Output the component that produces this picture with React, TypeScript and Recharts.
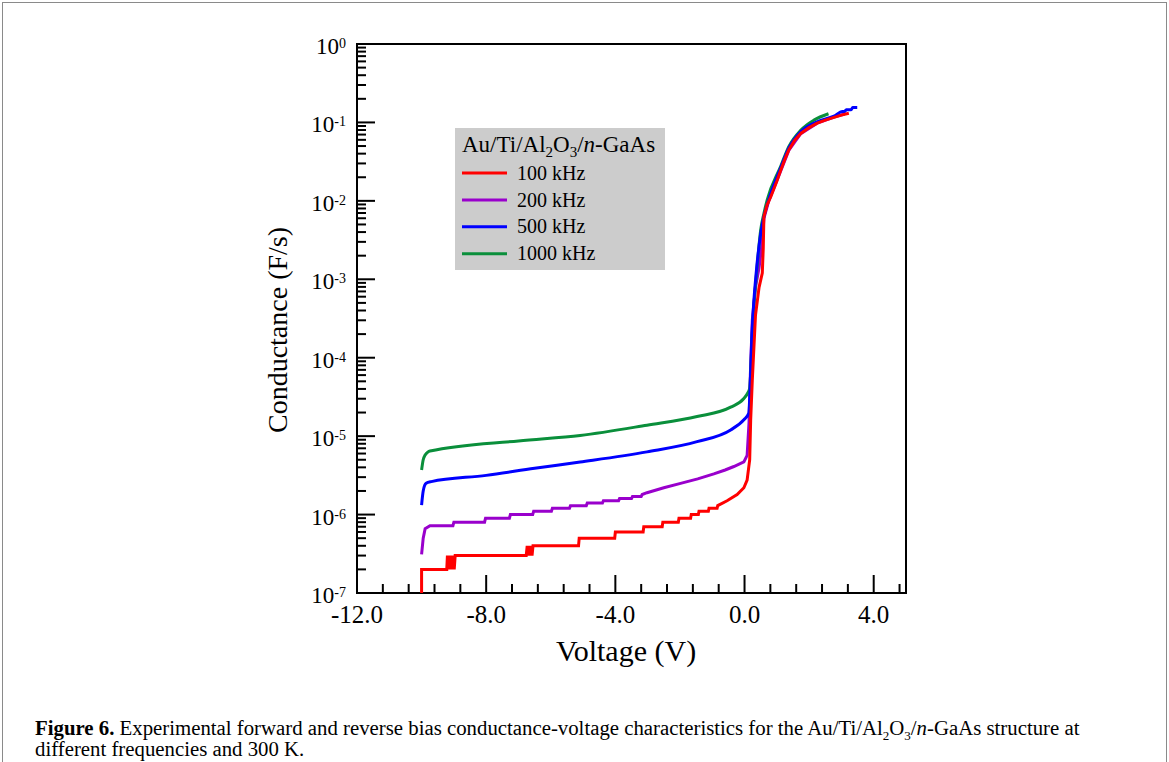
import { Legend, Line, LineChart, ReferenceArea, XAxis, YAxis } from "recharts";

const SERIF = '"Liberation Serif", "Times New Roman", serif';

// [voltage (V), conductance (F/s)]
const g100: [number, number][] = [
  [-10, 1e-7], [-10, 2e-7], [-9.22, 2e-7], [-9.2, 3e-7], [-9.17, 2e-7], [-9.14, 3e-7],
  [-9.11, 2e-7], [-9.08, 3e-7], [-9.05, 2e-7], [-9.02, 3e-7], [-8.99, 2e-7], [-8.96, 3e-7],
  [-6.76, 3e-7], [-6.73, 4e-7], [-6.7, 3e-7], [-6.67, 4e-7], [-6.64, 3e-7], [-6.61, 4e-7],
  [-6.58, 3e-7], [-6.55, 4e-7], [-5.14, 4e-7], [-5.12, 5e-7], [-4.02, 5e-7], [-4.0, 6e-7],
  [-3.14, 6e-7], [-3.12, 7e-7], [-2.55, 7e-7], [-2.53, 8e-7], [-2.05, 8e-7], [-2.03, 9e-7],
  [-1.67, 9e-7], [-1.65, 1e-6], [-1.43, 1e-6], [-1.41, 1.1e-6], [-1.12, 1.1e-6], [-1.1, 1.2e-6],
  [-0.85, 1.2e-6], [-0.83, 1.3e-6], [-0.54, 1.5e-6], [-0.23, 1.8e-6], [-0.02, 2.2e-6],
  [0.08, 2.75e-6], [0.16, 5e-6], [0.19, 1.6e-5], [0.24, 5.1e-5], [0.34, 3.5e-4], [0.45, 7.9e-4],
  [0.55, 1.2e-3], [0.58, 2.5e-3], [0.6, 6.3e-3], [0.7, 8.9e-3], [0.81, 1.12e-2], [1.0, 1.78e-2],
  [1.12, 2.45e-2], [1.25, 3.4e-2], [1.37, 4.47e-2], [1.55, 5.9e-2], [1.74, 7.24e-2], [2.0, 8.6e-2],
  [2.25, 9.77e-2], [2.5, 0.107], [2.77, 0.116], [3.0, 0.124], [3.23, 0.131],
];

const g200: [number, number][] = [
  [-10, 3.1e-7], [-9.95, 5e-7], [-9.89, 6.6e-7], [-9.74, 7.2e-7], [-9.03, 7.2e-7], [-9.0, 8e-7],
  [-8.05, 8e-7], [-8.02, 9e-7], [-7.28, 9e-7], [-7.25, 1e-6], [-6.56, 1e-6], [-6.53, 1.1e-6],
  [-5.98, 1.1e-6], [-5.95, 1.2e-6], [-5.42, 1.2e-6], [-5.39, 1.3e-6], [-4.9, 1.3e-6],
  [-4.87, 1.4e-6], [-4.4, 1.4e-6], [-4.37, 1.5e-6], [-3.9, 1.5e-6], [-3.87, 1.6e-6],
  [-3.5, 1.6e-6], [-3.47, 1.7e-6], [-3.2, 1.7e-6], [-3.17, 1.8e-6], [-3.02, 1.9e-6],
  [-2.5, 2.2e-6], [-1.98, 2.5e-6], [-1.45, 2.85e-6], [-0.95, 3.3e-6], [-0.6, 3.7e-6],
  [-0.33, 4.1e-6], [-0.02, 4.7e-6], [0.08, 5.7e-6],
  [0.14, 1.5e-5], [0.18, 6e-5], [0.24, 3e-4], [0.34, 8e-4], [0.45, 1.4e-3], [0.55, 3e-3],
  [0.6, 6e-3], [0.75, 1e-2], [1.12, 2.4e-2], [1.37, 4.4e-2], [1.74, 7.2e-2], [2.25, 9.8e-2],
  [2.77, 0.117], [3.1, 0.128],
];

const g500: [number, number][] = [
  [-10, 1.32e-6], [-9.95, 2e-6], [-9.86, 2.5e-6], [-9.7, 2.63e-6], [-8, 3.16e-6], [-6.5, 3.9e-6],
  [-5.09, 4.68e-6], [-3.02, 6.3e-6], [-1.47, 8.5e-6], [-0.43, 1.2e-5], [-0.02, 1.62e-5],
  [0.13, 1.95e-5], [0.18, 5e-5], [0.22, 1.6e-4], [0.27, 4e-4], [0.37, 1.32e-3], [0.5, 3.8e-3],
  [0.6, 6.3e-3], [0.72, 9.5e-3], [1.12, 2.63e-2], [1.37, 4.68e-2], [1.74, 7.6e-2], [2.25, 0.102],
  [2.77, 0.12], [3.03, 0.138], [3.1, 0.138], [3.15, 0.145], [3.3, 0.145], [3.35, 0.155], [3.49, 0.155],
];

const g1000: [number, number][] = [
  [-10, 3.7e-6], [-9.95, 5e-6], [-9.89, 5.75e-6], [-9.8, 6.3e-6], [-9.74, 6.45e-6], [-7, 8.7e-6],
  [-5.09, 1.02e-5], [-3.02, 1.38e-5], [-1.47, 1.78e-5], [-0.43, 2.34e-5], [-0.02, 3.02e-5],
  [0.1, 3.55e-5], [0.16, 4.07e-5], [0.2, 7.9e-5], [0.24, 2e-4], [0.29, 4.47e-4], [0.39, 1.45e-3],
  [0.5, 4.27e-3], [0.6, 6.9e-3], [0.7, 1.02e-2], [1.12, 2.75e-2], [1.37, 4.9e-2], [1.74, 7.94e-2],
  [2.15, 0.107], [2.6, 0.129],
];

const seriesNames = ["100 kHz", "200 kHz", "500 kHz", "1000 kHz"];
const seriesColors = ["#ff0000", "#9900cc", "#0000ff", "#0a8f3b"];

const xTicks = [
  -12, -11.2, -10.4, -9.6, -8.8, -8, -7.2, -6.4, -5.6, -4.8, -4, -3.2, -2.4, -1.6, -0.8,
  0, 0.8, 1.6, 2.4, 3.2, 4, 4.8,
];
const decades = [-7, -6, -5, -4, -3, -2, -1, 0];
const mantissas = [1, 2, 3, 4, 5, 6, 7, 8, 9];
const yTicks = decades.flatMap((d) => (d === 0 ? [1] : mantissas.map((m) => m * 10 ** d)));

const toRows = (pts: [number, number][]) => pts.map(([v, g]) => ({ v, g }));

function XTick({ x, y, payload }: any) {
  const v = payload.value as number;
  const major = Math.abs(v % 4) < 1e-6;
  return (
    <g>
      <line x1={x} x2={x} y1={y} y2={y - (major ? 18 : 9)} stroke="#000" strokeWidth={2} />
      {major && (
        <text x={x} y={y + 30} textAnchor="middle" fontSize={25} fontFamily={SERIF} fill="#000">
          {v.toFixed(1)}
        </text>
      )}
    </g>
  );
}

function YTick({ x, y, payload }: any) {
  const lg = Math.log10(payload.value as number);
  const exp = Math.round(lg);
  const major = Math.abs(lg - exp) < 1e-6;
  return (
    <g>
      <line x1={x} x2={x + (major ? 18 : 9)} y1={y} y2={y} stroke="#000" strokeWidth={2} />
      {major && (
        <text x={x - 11} y={y + 10} textAnchor="end" fontFamily={SERIF} fill="#000">
          <tspan fontSize={23}>10</tspan>
          <tspan fontSize={14} dy={-6}>{exp}</tspan>
        </text>
      )}
    </g>
  );
}

function LegendBox() {
  const rows = [0, 1, 2, 3];
  return (
    <svg width={210} height={142} style={{ display: "block" }}>
      <rect x={0} y={0} width={210} height={142} fill="#cccccc" />
      <text x={7} y={24} fontSize={23} fontFamily={SERIF} fill="#000">
        Au/Ti/Al
        <tspan fontSize={15} dy={5}>2</tspan>
        <tspan dy={-5}>O</tspan>
        <tspan fontSize={15} dy={5}>3</tspan>
        <tspan dy={-5}>/</tspan>
        <tspan fontStyle="italic">n</tspan>
        <tspan>-GaAs</tspan>
      </text>
      {rows.map((i) => (
        <g key={i}>
          <line x1={7} x2={52} y1={45 + i * 26.9} y2={45 + i * 26.9} stroke={seriesColors[i]} strokeWidth={3} />
          <text x={62} y={52 + i * 26.7} fontSize={20} fontFamily={SERIF} fill="#000">
            {seriesNames[i]}
          </text>
        </g>
      ))}
    </svg>
  );
}

export default function App() {
  const sub = { fontSize: 13, lineHeight: 0 };
  return (
    <div style={{ position: "absolute", left: 0, top: 0, width: 1169, height: 762, background: "#fff", overflow: "hidden" }}>
      <div style={{ position: "absolute", left: 2, top: 2, width: 1163, height: 780, border: "1px solid #8a8a8a" }} />
      <div style={{ position: "absolute", left: 0, top: 0 }}>
        <LineChart width={1169} height={700} margin={{ top: 44, right: 263, bottom: 0, left: 0 }}>
          <XAxis
            type="number"
            dataKey="v"
            domain={[-12, 5]}
            allowDataOverflow
            ticks={xTicks}
            interval={0}
            height={107}
            tickSize={0}
            tickMargin={0}
            tickLine={false}
            axisLine={false}
            tick={<XTick />}
          />
          <YAxis
            type="number"
            scale="log"
            domain={[1e-7, 1]}
            allowDataOverflow
            ticks={yTicks}
            interval={0}
            width={357}
            tickSize={0}
            tickMargin={0}
            tickLine={false}
            axisLine={false}
            tick={<YTick />}
          />
          <ReferenceArea x1={-12} x2={5} y1={1e-7} y2={1} fill="none" stroke="#000" strokeWidth={2} />
          <Line data={toRows(g200)} dataKey="g" stroke={seriesColors[1]} strokeWidth={3} dot={false} isAnimationActive={false} />
          <Line type="monotone" data={toRows(g1000)} dataKey="g" stroke={seriesColors[3]} strokeWidth={3} dot={false} isAnimationActive={false} />
          <Line type="monotone" data={toRows(g500)} dataKey="g" stroke={seriesColors[2]} strokeWidth={3} dot={false} isAnimationActive={false} />
          <Line data={toRows(g100)} dataKey="g" stroke={seriesColors[0]} strokeWidth={3} dot={false} isAnimationActive={false} />
          <Legend
            layout="vertical"
            align="center"
            verticalAlign="middle"
            content={() => <LegendBox />}
            wrapperStyle={{ left: 455, top: 128, width: 210, height: 142 }}
          />
          <text x={626} y={661} textAnchor="middle" fontSize={30} fontFamily={SERIF} fill="#000">
            Voltage (V)
          </text>
          <text
            x={287}
            y={330}
            transform="rotate(-90, 287, 330)"
            textAnchor="middle"
            fontSize={28}
            fontFamily={SERIF}
            fill="#000"
          >
            Conductance (F/s)
          </text>
        </LineChart>
      </div>
      <div
        style={{
          position: "absolute",
          left: 35,
          top: 717,
          fontFamily: SERIF,
          fontSize: 20.8,
          lineHeight: "21px",
          color: "#000",
          whiteSpace: "nowrap",
        }}
      >
        <b>Figure 6.</b> Experimental forward and reverse bias conductance-voltage characteristics for the Au/Ti/Al
        <sub style={sub}>2</sub>O<sub style={sub}>3</sub>/<i>n</i>-GaAs structure at
        <br />
        different frequencies and 300 K.
      </div>
    </div>
  );
}
